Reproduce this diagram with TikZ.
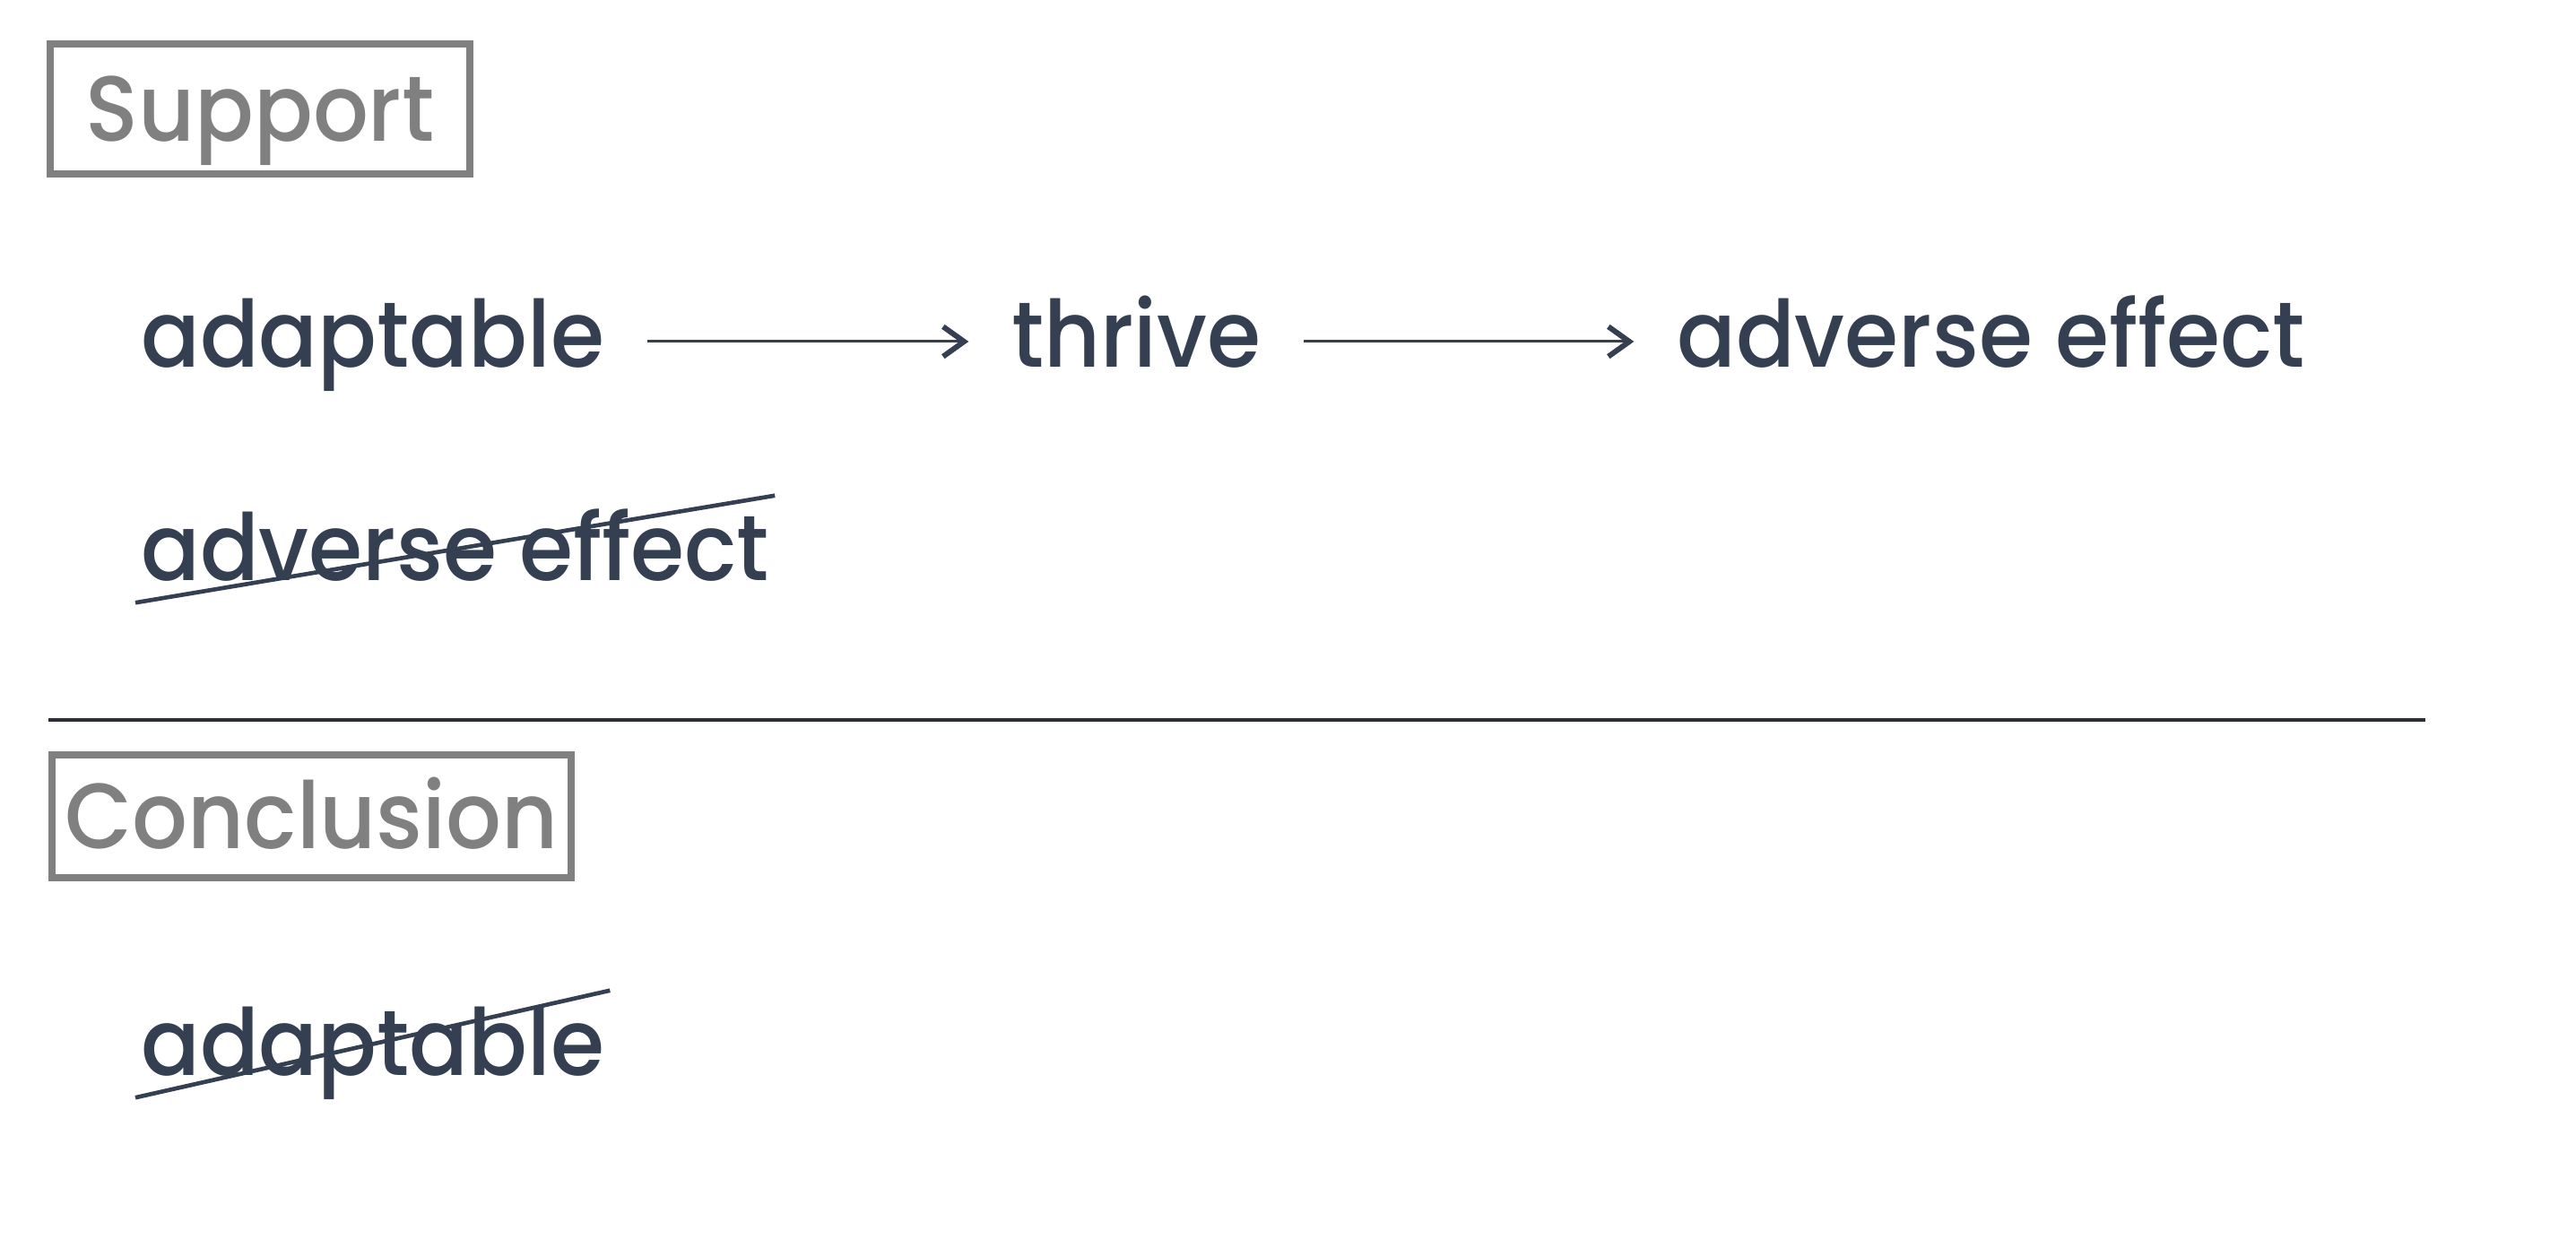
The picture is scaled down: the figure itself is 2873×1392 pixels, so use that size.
\documentclass[tikz,border=0pt]{standalone}
\usepackage{fontspec}
\setmainfont{Poppins Medium}[FakeStretch=0.94]
\usetikzlibrary{arrows.meta}

\definecolor{inkSlate}{RGB}{52,63,81}
\definecolor{tagGrey}{RGB}{128,128,128}
\definecolor{ruleDark}{RGB}{43,46,54}

\tikzset{
	word/.style={anchor=base west, inner sep=0pt, text=inkSlate, font=\fontsize{31}{36}\selectfont, text height=24pt, text depth=6.6pt},
	gone/.style={word, inner xsep=1.5pt, text height=28.2pt, text depth=6.9pt},
	tag/.style={draw=tagGrey, line width=2.4pt, text=tagGrey, font=\fontsize{31}{36}\selectfont, inner sep=0pt, text height=21.9pt, text depth=0pt},
	link/.style={draw=inkSlate, line width=0.9pt, -{Straight Barb[length=7pt,width=10pt,line width=1.8pt]}, shorten <=14pt, shorten >=14pt},
	strike/.style={draw=inkSlate, line width=1.4pt},
	divider/.style={draw=ruleDark, line width=1.2pt}}
\tikzset{every picture/.style={line width=0.75pt}}

\begin{document}
\begin{tikzpicture}[x=0.3pt,y=0.3pt,yscale=-1,xscale=1]
	\useasboundingbox (0,0) rectangle (2873,1392);

	% Text Node
	\node[tag, minimum width=140.4pt, minimum height=43.5pt] (support) at (290,121.5) {Support};
	% Text Node
	\node[word] (adapt) at (156,410) {adaptable};
	% Text Node
	\node[word] (thrive) at (1127,410) {thrive};
	% Text Node
	\node[word] (harm) at (1869,410) {adverse effect};
	%Straight Lines
	\draw[link] (adapt) -- (thrive);
	%Straight Lines
	\draw[link] (thrive) -- (harm);

	% Text Node
	\node[gone] (harmGone) at (151,648) {adverse effect};
	%Straight Lines
	\draw[strike] (harmGone.south west) -- (harmGone.north east);

	%Straight Lines
	\coordinate (ruleL) at (54,803);
	\coordinate (ruleR) at (2705,803);
	\draw[divider] (ruleL) -- (ruleR);

	% Text Node
	\node[tag, minimum width=173.7pt, minimum height=41.1pt] (conclusion) at (347.5,910.5) {Conclusion};
	% Text Node
	\node[gone] (adaptGone) at (151,1200) {adaptable};
	%Straight Lines
	\draw[strike] (adaptGone.south west) -- (adaptGone.north east);

\end{tikzpicture}
\end{document}
